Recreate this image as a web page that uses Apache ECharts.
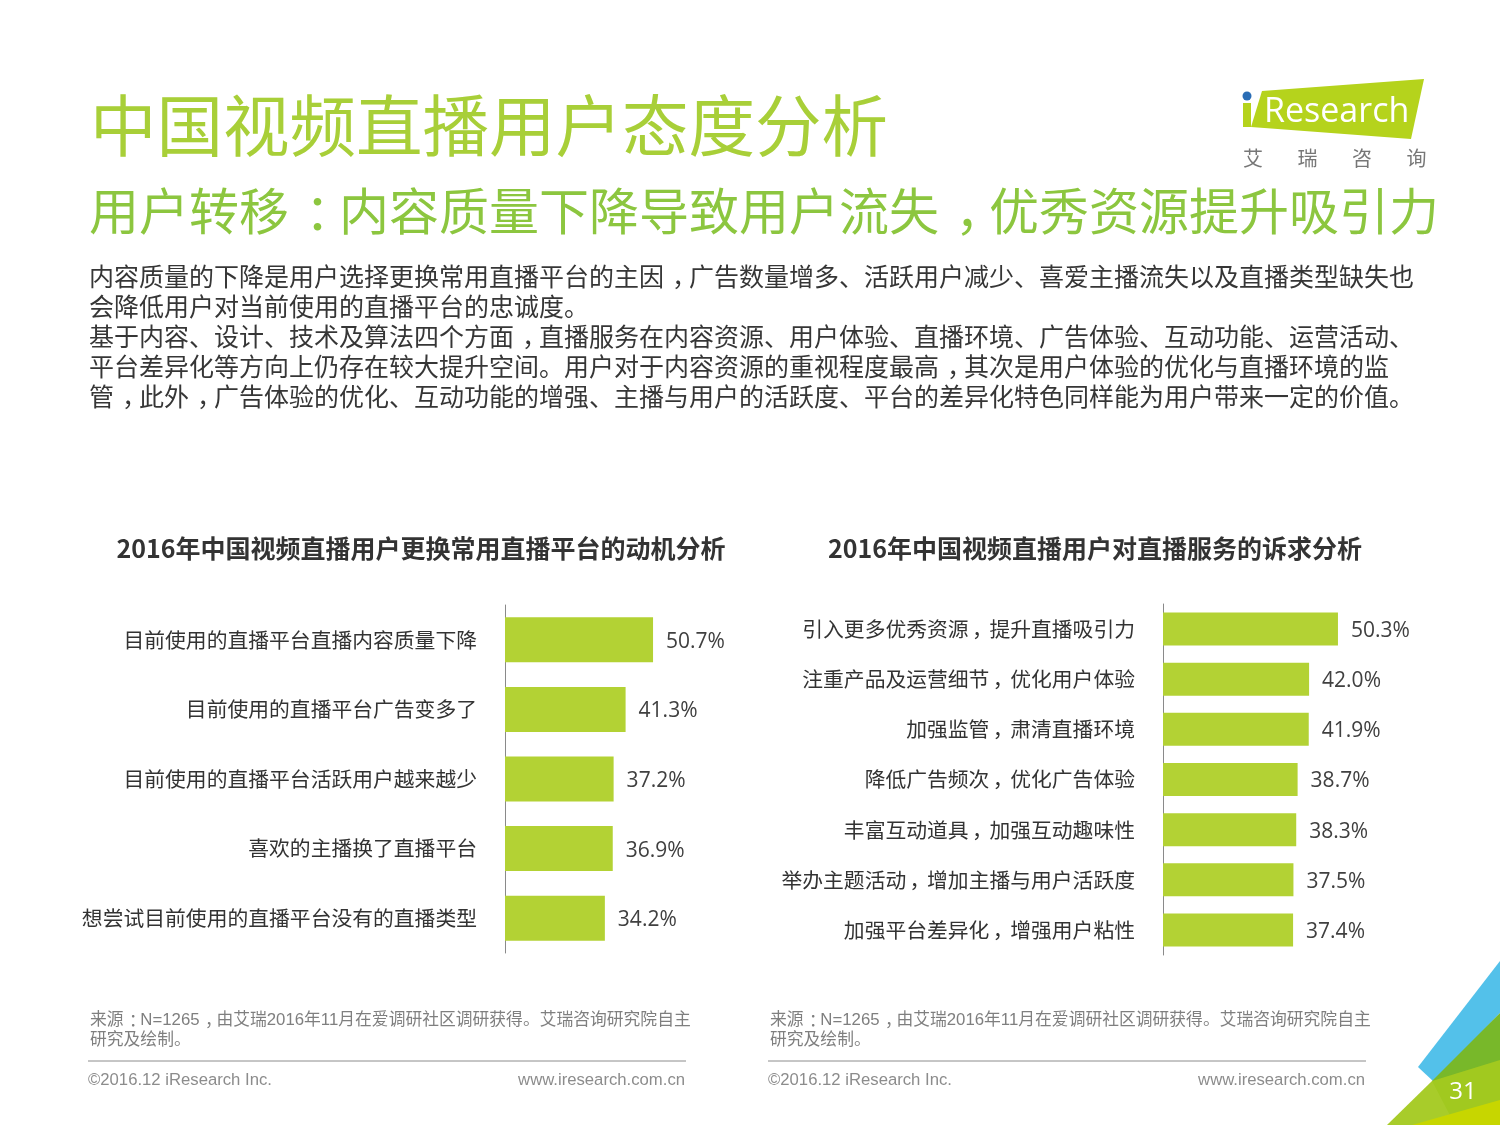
<!DOCTYPE html>
<html>
<head>
<meta charset="utf-8">
<style>
html,body{margin:0;padding:0;background:#fff;}
#main{width:1500px;height:1125px;}
</style>
<script src="https://cdn.jsdelivr.net/npm/echarts@6/dist/echarts.min.js"></script>
</head>
<body>
<div id="main"></div>
<script>
const pageTitle = '中国视频直播用户态度分析';
const pageSubtitle = '用户转移：内容质量下降导致用户流失，优秀资源提升吸引力';
const bodyLines = [
  '内容质量的下降是用户选择更换常用直播平台的主因，广告数量增多、活跃用户减少、喜爱主播流失以及直播类型缺失也',
  '会降低用户对当前使用的直播平台的忠诚度。',
  '基于内容、设计、技术及算法四个方面，直播服务在内容资源、用户体验、直播环境、广告体验、互动功能、运营活动、',
  '平台差异化等方向上仍存在较大提升空间。用户对于内容资源的重视程度最高，其次是用户体验的优化与直播环境的监',
  '管，此外，广告体验的优化、互动功能的增强、主播与用户的活跃度、平台的差异化特色同样能为用户带来一定的价值。'
];
const leftTitle = '2016年中国视频直播用户更换常用直播平台的动机分析';
const rightTitle = '2016年中国视频直播用户对直播服务的诉求分析';
const leftCategories = [
  '目前使用的直播平台直播内容质量下降',
  '目前使用的直播平台广告变多了',
  '目前使用的直播平台活跃用户越来越少',
  '喜欢的主播换了直播平台',
  '想尝试目前使用的直播平台没有的直播类型'
];
const leftValues = [50.7, 41.3, 37.2, 36.9, 34.2];
const rightCategories = [
  '引入更多优秀资源，提升直播吸引力',
  '注重产品及运营细节，优化用户体验',
  '加强监管，肃清直播环境',
  '降低广告频次，优化广告体验',
  '丰富互动道具，加强互动趣味性',
  '举办主题活动，增加主播与用户活跃度',
  '加强平台差异化，增强用户粘性'
];
const rightValues = [50.3, 42.0, 41.9, 38.7, 38.3, 37.5, 37.4];
const sourceLines = [
  '来源：N=1265，由艾瑞2016年11月在爱调研社区调研获得。艾瑞咨询研究院自主',
  '研究及绘制。'
];
const copyrightText = '©2016.12 iResearch Inc.';
const siteText = 'www.iresearch.com.cn';
const logoChars = ['艾', '瑞', '咨', '询'];
const pageNumber = '31';

const CJK = '"Noto Sans CJK SC", "Noto Sans", sans-serif';
const LAT = 'Arial, "Liberation Sans", "Noto Sans CJK SC", sans-serif';
const BAR = '#b3d234';

// full-width comma / colon shifted to the middle of their cell (as in the reference)
function punct(s) {
  return s.replace(/[，：]/g, m => '{p|' + m + '}');
}
function punctStyle(size, color, weight) {
  return {
    fontFamily: CJK, fontSize: size, fontWeight: weight || 'normal', color: color,
    width: size * 0.68, padding: [0, 0, 0, size * 0.32], align: 'left'
  };
}

function txt(text, x, y, size, color, opts) {
  opts = opts || {};
  const family = opts.family || CJK;
  const el = {
    type: 'text', silent: true,
    style: {
      text: opts.centerPunct ? punct(text) : text, x: x, y: y,
      font: (opts.weight || 'normal') + ' ' + size + 'px ' + family,
      fill: color,
      textAlign: opts.align || 'left',
      textVerticalAlign: 'middle'
    }
  };
  if (opts.centerPunct) {
    const ps = punctStyle(size, color, opts.weight);
    el.style.rich = {p: {
      font: (opts.weight || 'normal') + ' ' + size + 'px ' + CJK,
      fill: color, width: ps.width, padding: ps.padding, align: 'left'
    }};
  }
  return el;
}

const graphics = [];
graphics.push(txt(pageTitle, 90, 126, 66.5, '#a8cf38'));
graphics.push(txt(pageSubtitle, 89, 211, 50, '#8cc63f', {centerPunct: true}));
bodyLines.forEach((l, i) => graphics.push(txt(l, 89, 276 + i * 30, 25, '#363636', {centerPunct: true})));
graphics.push(txt(leftTitle, 421, 548, 25, '#333333', {weight: 'bold', align: 'center'}));
graphics.push(txt(rightTitle, 1095, 548, 25, '#333333', {weight: 'bold', align: 'center'}));

// footers
[[90, 686], [770, 1366]].forEach(([x0, x1]) => {
  sourceLines.forEach((l, i) => graphics.push(txt(l, x0, 1020 + i * 20, 16.8, '#7f7f7f', {family: LAT, centerPunct: true})));
  graphics.push({type: 'line', silent: true, shape: {x1: x0 - 2, y1: 1061, x2: x1, y2: 1061}, style: {stroke: '#8c8c8c', lineWidth: 1}});
  graphics.push(txt(copyrightText, x0 - 2, 1080, 16.7, '#8c8c8c', {family: LAT}));
  graphics.push(txt(siteText, x1 - 1, 1080, 16.7, '#8c8c8c', {family: LAT, align: 'right'}));
});

// logo
graphics.push({type: 'polygon', silent: true, shape: {points: [[1262, 91], [1424, 79], [1411, 139], [1251, 127]]}, style: {fill: '#b5d31c'}});
graphics.push({type: 'rect', silent: true, shape: {x: 1243, y: 103, width: 8, height: 24}, style: {fill: '#b5d31c'}});
graphics.push({type: 'circle', silent: true, shape: {cx: 1247, cy: 96, r: 4.5}, style: {fill: '#2a6db5'}});
graphics.push(txt('Research', 1264, 112, 34, '#ffffff', {family: '"Open Sans", sans-serif'}));
logoChars.forEach((c, i) => graphics.push(txt(c, 1253 + i * 54.5, 158, 20, '#777777', {align: 'center'})));

// corner decoration
graphics.push({type: 'polygon', silent: true, shape: {points: [[1500, 961], [1418, 1067], [1434, 1082], [1500, 1013]]}, style: {fill: '#53c1ea'}});
graphics.push({type: 'polygon', silent: true, shape: {points: [[1500, 1013], [1432, 1081], [1455, 1125], [1500, 1125]]}, style: {fill: '#78b82a'}});
graphics.push({type: 'polygon', silent: true, shape: {points: [[1432, 1081], [1387, 1125], [1500, 1125], [1500, 1060]]}, style: {fill: '#a3c91f', opacity: 0.95}});
graphics.push({type: 'polygon', silent: true, shape: {points: [[1412, 1125], [1500, 1100], [1500, 1125]]}, style: {fill: '#c7d600'}});
graphics.push(txt(pageNumber, 1463, 1092, 24, '#ffffff', {family: '"Open Sans", sans-serif', align: 'center'}));

const catAxisCommon = {
  type: 'category', inverse: true,
  axisLine: {show: true, lineStyle: {color: '#8a8a8a', width: 1}},
  axisTick: {show: false},
  splitLine: {show: false},
  axisLabel: {
    color: '#333333', fontSize: 20.8, fontFamily: CJK, margin: 28,
    formatter: v => punct(v),
    rich: {p: punctStyle(20.8, '#333333')}
  }
};
const valAxisCommon = {
  type: 'value', min: 0, show: false,
  splitLine: {show: false}
};
const labelCommon = {
  show: true, position: 'right', distance: 13, offset: [0, 2],
  color: '#404040', fontSize: 21, fontFamily: '"Open Sans", "Noto Sans", sans-serif',
  formatter: p => p.value.toFixed(1) + '%'
};

const chart = echarts.init(document.getElementById('main'), null, {renderer: 'canvas'});
chart.setOption({
  backgroundColor: '#ffffff',
  animation: false,
  grid: [
    {left: 505, top: 605, width: 292, height: 348},
    {left: 1163, top: 604, width: 208.7, height: 351}
  ],
  xAxis: [
    Object.assign({gridIndex: 0, max: 100}, valAxisCommon),
    Object.assign({gridIndex: 1, max: 60}, valAxisCommon)
  ],
  yAxis: [
    Object.assign({gridIndex: 0, data: leftCategories}, catAxisCommon),
    Object.assign({gridIndex: 1, data: rightCategories}, catAxisCommon)
  ],
  series: [
    {type: 'bar', xAxisIndex: 0, yAxisIndex: 0, data: leftValues, barWidth: 45,
     itemStyle: {color: BAR}, label: labelCommon},
    {type: 'bar', xAxisIndex: 1, yAxisIndex: 1, data: rightValues, barWidth: 33,
     itemStyle: {color: BAR}, label: labelCommon}
  ],
  graphic: graphics
});
</script>
</body>
</html>
